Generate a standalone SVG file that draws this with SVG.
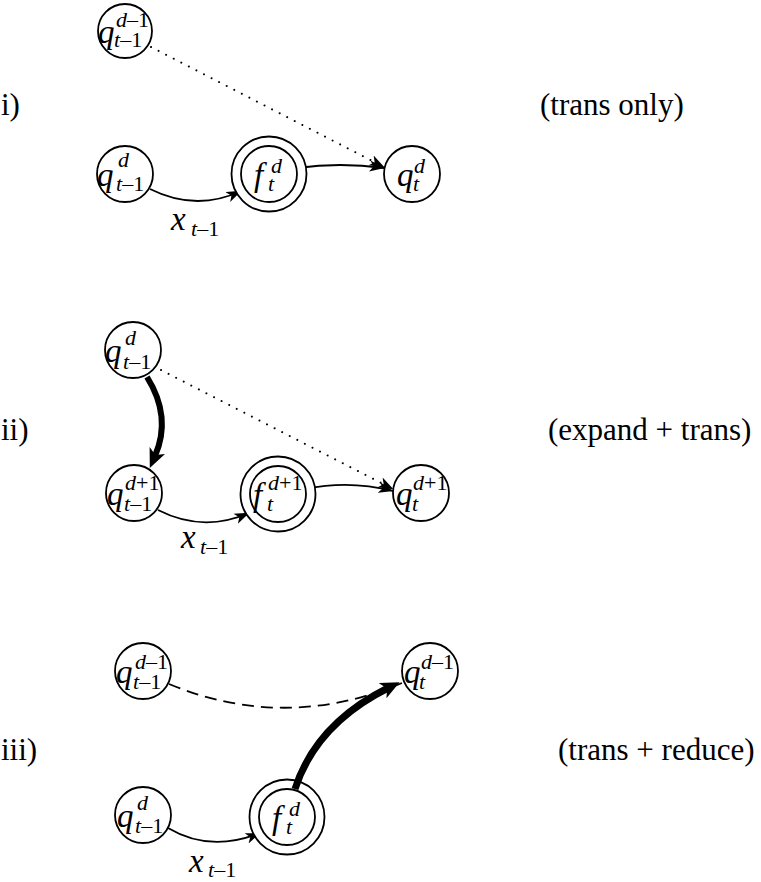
<svg xmlns="http://www.w3.org/2000/svg" width="761" height="882" viewBox="0 0 761 882">
  <style>
    .node circle { fill: #fff; stroke: #000; stroke-width: 1.8; }
    .m { font-family: "Liberation Serif", serif; font-style: italic; font-size: 33px; fill: #000; }
    .s { font-family: "Liberation Serif", serif; font-size: 22px; fill: #000; }
    .i { font-style: italic; }
    .cap { font-family: "Liberation Serif", serif; font-size: 31px; fill: #000; }
    #edges path { fill: none; stroke: #000; stroke-width: 1.8; }
    #edges .dot { stroke-dasharray: 0.01 8.5; stroke-linecap: round; stroke-width: 2; }
    #edges .dash { stroke-dasharray: 12 7; }
  </style>
  <defs>
    <marker id="arr" viewBox="0 -6 15 12" refX="14.5" refY="0" markerWidth="15" markerHeight="12" markerUnits="userSpaceOnUse" orient="auto">
      <path d="M15,0 L0,-5.5 L4,0 L0,5.5 Z" fill="#000"/>
    </marker>
    <marker id="arrT" viewBox="0 -8.5 19 17" refX="6" refY="0" markerWidth="19" markerHeight="17" markerUnits="userSpaceOnUse" orient="auto">
      <path d="M19,0 L0,-8.5 L5,0 L0,8.5 Z" fill="#000"/>
    </marker>
  </defs>

  <!-- row captions -->
  <g id="captions">
    <text class="cap" x="1" y="115">i)</text>
    <text class="cap" x="540" y="115">(trans only)</text>
    <text class="cap" x="1" y="440">ii)</text>
    <text class="cap" x="548" y="440">(expand + trans)</text>
    <text class="cap" x="1" y="760">iii)</text>
    <text class="cap" x="558" y="760">(trans + reduce)</text>
  </g>

  <!-- connectors -->
  <g id="edges">
    <!-- i -->
    <path class="dot" d="M151,47 L384,167" marker-end="url(#arr)"/>
    <path d="M150,189 Q196,212 241,191" marker-end="url(#arr)"/>
    <path d="M297,168 Q340,162 384,168" marker-end="url(#arr)"/>
    <!-- ii -->
    <path class="dot" d="M161,370 L393,489" marker-end="url(#arr)"/>
    <path d="M158,510 Q203,533 249,513" marker-end="url(#arr)"/>
    <path d="M306,489 Q349,480 393,491" marker-end="url(#arr)"/>
    <!-- iii -->
    <path class="dash" d="M169,684 Q285,732 402,683"/>
    <path d="M168,828 Q210,853 260,833" marker-end="url(#arr)"/>
  </g>

  <!-- i) -->
  <g id="i-q-dm1-tm1" class="node">
    <circle cx="125" cy="31" r="27"/>
    <text class="m" x="98" y="43">q</text>
    <text class="s" x="116" y="27"><tspan class="i">d</tspan>–1</text>
    <text class="s" x="114" y="47"><tspan class="i">t</tspan>–1</text>
  </g>
  <g id="i-q-d-tm1" class="node">
    <circle cx="125" cy="174" r="28"/>
    <text class="m" x="97" y="186">q</text>
    <text class="s" x="118" y="167"><tspan class="i">d</tspan></text>
    <text class="s" x="116" y="191"><tspan class="i">t</tspan>–1</text>
  </g>
  <g id="i-f-d-t" class="node">
    <circle cx="269" cy="174" r="37.5"/>
    <circle cx="269" cy="174" r="28"/>
    <text class="m" x="254" y="186">f</text>
    <text class="s" x="271" y="173"><tspan class="i">d</tspan></text>
    <text class="s" x="268" y="191"><tspan class="i">t</tspan></text>
  </g>
  <g id="i-q-d-t" class="node">
    <circle cx="412" cy="174" r="28"/>
    <text class="m" x="397" y="186">q</text>
    <text class="s" x="414" y="173"><tspan class="i">d</tspan></text>
    <text class="s" x="413" y="191"><tspan class="i">t</tspan></text>
  </g>
  <text class="m" x="171" y="230">x</text>
  <text class="s" x="191" y="236"><tspan class="i">t</tspan>–1</text>

  <!-- ii) -->
  <g id="ii-q-d-tm1" class="node">
    <circle cx="133" cy="350" r="28"/>
    <text class="m" x="105" y="362">q</text>
    <text class="s" x="125" y="345"><tspan class="i">d</tspan></text>
    <text class="s" x="123" y="369"><tspan class="i">t</tspan>–1</text>
  </g>
  <g id="ii-q-dp1-tm1" class="node">
    <circle cx="134" cy="493" r="28"/>
    <text class="m" x="107" y="505">q</text>
    <text class="s" x="125" y="490"><tspan class="i">d</tspan>+1</text>
    <text class="s" x="124" y="511"><tspan class="i">t</tspan>–1</text>
  </g>
  <g id="ii-f-dp1-t" class="node">
    <circle cx="278" cy="494" r="37.5"/>
    <circle cx="278" cy="494" r="28"/>
    <text class="m" x="253" y="506">f</text>
    <text class="s" x="268" y="490"><tspan class="i">d</tspan>+1</text>
    <text class="s" x="267" y="511"><tspan class="i">t</tspan></text>
  </g>
  <g id="ii-q-dp1-t" class="node">
    <circle cx="421" cy="493" r="28"/>
    <text class="m" x="396" y="505">q</text>
    <text class="s" x="413" y="490"><tspan class="i">d</tspan>+1</text>
    <text class="s" x="412" y="511"><tspan class="i">t</tspan></text>
  </g>
  <text class="m" x="181" y="548">x</text>
  <text class="s" x="200" y="554"><tspan class="i">t</tspan>–1</text>

  <!-- thick expand arrow drawn over the nodes -->
  <g id="edges-thick-ii">
    <path d="M147,377 Q172,417 155,456" fill="none" stroke="#000" stroke-width="6" marker-end="url(#arrT)"/>
  </g>

  <!-- iii) -->
  <g id="iii-q-dm1-tm1" class="node">
    <circle cx="143" cy="671" r="28"/>
    <text class="m" x="116" y="683">q</text>
    <text class="s" x="135" y="669"><tspan class="i">d</tspan>–1</text>
    <text class="s" x="133" y="689"><tspan class="i">t</tspan>–1</text>
  </g>
  <g id="iii-q-dm1-t" class="node">
    <circle cx="430" cy="671" r="28"/>
    <text class="m" x="404" y="683">q</text>
    <text class="s" x="421" y="669"><tspan class="i">d</tspan>–1</text>
    <text class="s" x="419" y="689"><tspan class="i">t</tspan></text>
  </g>
  <g id="iii-q-d-tm1" class="node">
    <circle cx="143" cy="815" r="28"/>
    <text class="m" x="117" y="827">q</text>
    <text class="s" x="137" y="810"><tspan class="i">d</tspan></text>
    <text class="s" x="135" y="833"><tspan class="i">t</tspan>–1</text>
  </g>
  <g id="iii-f-d-t" class="node">
    <circle cx="287" cy="817" r="37.5"/>
    <circle cx="287" cy="817" r="28"/>
    <text class="m" x="272" y="829">f</text>
    <text class="s" x="289" y="816"><tspan class="i">d</tspan></text>
    <text class="s" x="286" y="834"><tspan class="i">t</tspan></text>
  </g>
  <text class="m" x="189" y="872">x</text>
  <text class="s" x="208" y="877"><tspan class="i">t</tspan>–1</text>

  <!-- thick reduce arrow drawn over the nodes -->
  <g id="edges-thick-iii">
    <path d="M295,789 Q316,724 388,688" fill="none" stroke="#000" stroke-width="7" marker-end="url(#arrT)"/>
  </g>
</svg>
